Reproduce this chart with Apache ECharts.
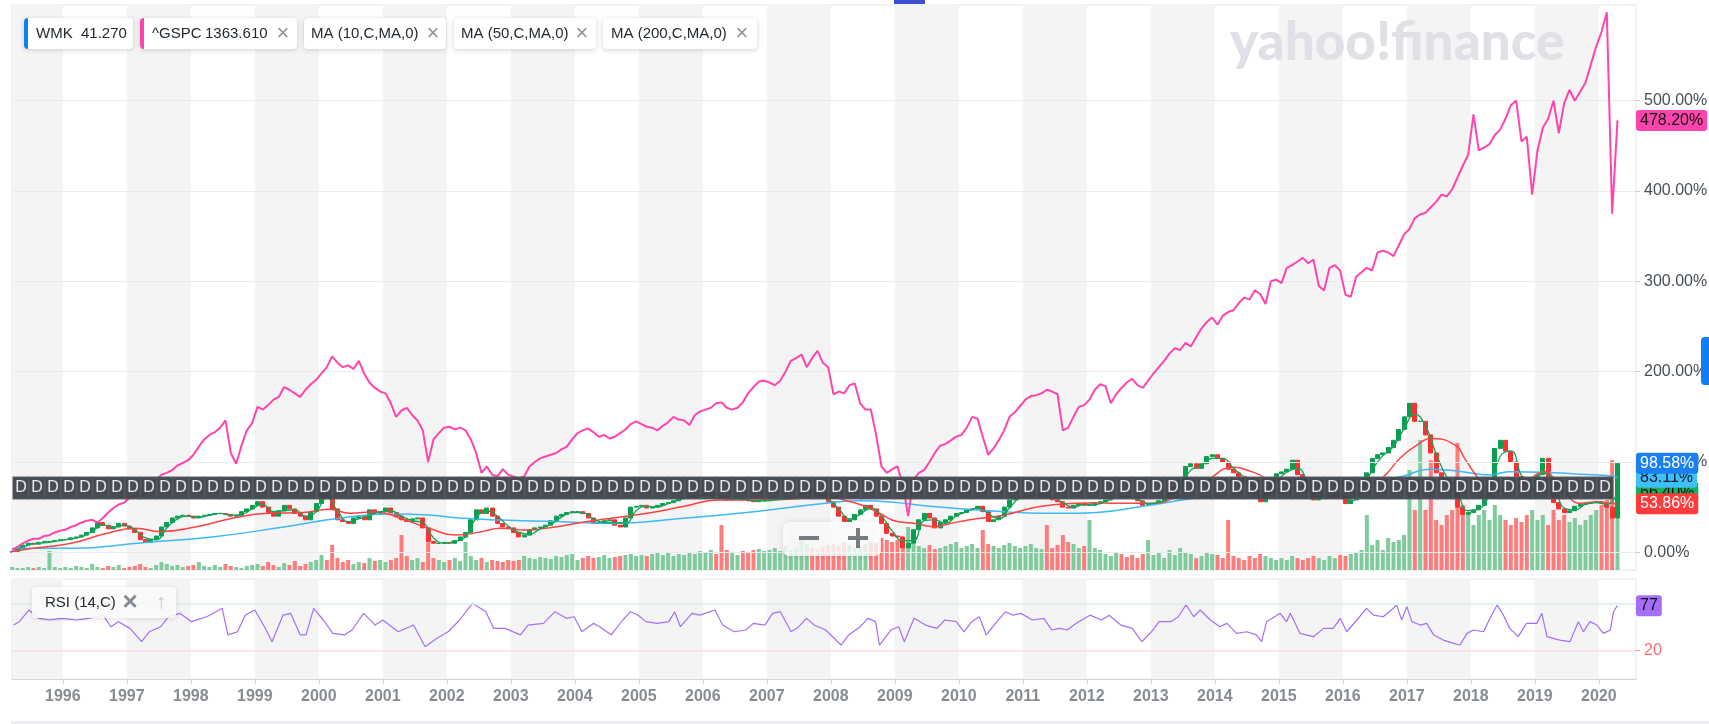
<!DOCTYPE html>
<html>
<head>
<meta charset="utf-8" />
<title>WMK vs ^GSPC</title>
<script type="text/javascript" src="https://cdn.jsdelivr.net/npm/echarts@6/dist/echarts.min.js"></script>
<style>
html, body { margin: 0; padding: 0; background: #fff; }
#chart { width: 1709px; height: 724px; }
</style>
</head>
<body>
<div id="chart"></div>
<script type="text/javascript">
// monthly series start at March 1995, one value per month (mid-month)
var startYear = 1995, startMonth = 3;

// WMK close, % change since start
var wmkClose = [
  1, 5, 8, 10, 9, 11, 12, 12, 13, 14,
  14, 16, 17, 19, 22, 27, 33, 30, 26, 28, 32, 29,
  26, 22, 14, 11, 14, 18, 28, 33, 38, 40, 41, 40,
  38, 40, 41, 42, 43, 43, 42, 40, 41, 45, 48, 52,
  56, 50, 44, 40, 46, 52, 48, 43, 40, 36, 45, 54,
  65, 62, 48, 36, 34, 32, 38, 40, 36, 47, 43, 45,
  49, 44, 40, 36, 34, 37, 38, 27, 12, 10, 10, 11,
  10, 13, 17, 22, 36, 47, 43, 49, 40, 32, 28, 27,
  22, 17, 19, 25, 27, 28, 30, 35, 40, 42, 44, 45,
  45, 43, 38, 32, 33, 35, 36, 30, 28, 38, 50, 51,
  52, 49, 50, 52, 54, 55, 57, 60, 61, 62, 63, 63,
  64, 65, 63, 60, 58, 59, 60, 58, 57, 56, 57, 57,
  58, 59, 59, 60, 60, 62, 65, 70, 66, 62, 60, 56,
  50, 40, 34, 36, 42, 47, 52, 48, 40, 32, 21, 18,
  17, 5, 10, 25, 36, 43, 38, 27, 33, 36, 40, 43,
  44, 47, 48, 51, 45, 34, 36, 40, 50, 58, 60, 61,
  62, 63, 64, 65, 62, 58, 56, 50, 49, 52, 54, 52,
  52, 54, 56, 58, 61, 63, 62, 61, 60, 57, 52, 53,
  54, 57, 61, 65, 72, 80, 95, 98, 93, 98, 106, 108,
  104, 100, 92, 88, 84, 78, 73, 64, 56, 66, 78, 87,
  89, 92, 102, 86, 80, 66, 58, 60, 62, 62, 65, 62,
  54, 58, 68, 76, 88, 104, 108, 110, 116, 124, 136, 150,
  165, 145, 145, 130, 110, 88, 82, 78, 68, 50, 42, 44,
  47, 52, 62, 80, 115, 124, 112, 100, 84, 70, 68, 73,
  86, 104, 82, 55, 48, 44, 46, 51, 53, 54, 55, 56,
  54, 50, 38, 98.58
];

// ^GSPC, % change since start
var gspcPct = [
  2, 6, 10, 13, 15, 15, 18, 19, 22, 24,
  25, 28, 30, 33, 35, 36, 33, 38, 44, 49, 53, 55,
  60, 63, 62, 65, 74, 80, 86, 88, 91, 96, 99, 102,
  108, 117, 125, 130, 133, 138, 146, 110, 98, 118, 135, 143,
  161, 158, 163, 169, 172, 183, 180, 176, 172, 180, 186, 191,
  198, 205, 217, 210, 205, 207, 203, 212, 198, 188, 182, 178,
  176, 165, 150, 157, 160, 152, 146, 135, 100, 125, 132, 138,
  139, 136, 138, 135, 125, 110, 88, 95, 86, 84, 92, 86,
  84, 82, 84, 95, 100, 104, 106, 108, 110, 114, 117, 125,
  132, 135, 137, 133, 128, 130, 126, 128, 132, 136, 142, 145,
  142, 139, 138, 135, 140, 144, 150, 147, 146, 141, 152, 156,
  158, 160, 165, 166, 160, 158, 160, 166, 176, 183, 189, 190,
  188, 185, 190, 200, 212, 215, 219, 205, 215, 223, 210, 205,
  175, 178, 176, 185, 187, 165, 158, 158, 130, 95, 88, 92,
  95, 75, 40, 80, 88, 91, 100, 110, 118, 120, 124, 128,
  130, 138, 150, 148, 128, 108, 115, 124, 135, 150, 155, 162,
  169, 173, 174, 176, 180, 178, 175, 135, 138, 150, 161, 163,
  169, 180, 186, 184, 165, 175, 182, 188, 192, 185, 182, 190,
  198, 205, 212, 220, 226, 224, 232, 228, 238, 248, 255, 260,
  252, 262, 266, 268, 276, 282, 280, 290, 286, 275, 300, 302,
  298, 315, 318, 322, 326, 320, 324, 295, 290, 315, 318, 312,
  285, 283, 305, 310, 315, 312, 332, 334, 332, 328, 340, 352,
  358, 370, 374, 376, 382, 388, 396, 394, 402, 415, 428, 440,
  485, 445, 448, 452, 462, 468, 480, 495, 500, 455, 460, 396,
  445, 470, 480, 500, 464, 497, 512, 500, 510, 520, 540, 560,
  576, 598, 375, 478.2
];

// WMK volume, relative units
var volume = [
  3, 2, 2, 3, 2, 3, 2, 19, 3, 2,
  3, 2, 4, 3, 2, 6, 3, 2, 4, 3, 5, 2,
  3, 4, 6, 3, 2, 5, 8, 6, 4, 5, 3, 4,
  5, 8, 4, 3, 5, 3, 6, 4, 3, 2, 4, 5,
  6, 4, 8, 5, 3, 7, 5, 9, 4, 6, 8, 10,
  15, 10, 25, 12, 8, 10, 6, 8, 7, 12, 9, 10,
  8, 10, 12, 35, 14, 10, 12, 8, 28, 12, 10, 8,
  10, 12, 9, 28, 14, 10, 12, 8, 10, 9, 8, 10,
  9, 10, 14, 12, 11, 13, 12, 11, 14, 13, 15, 16,
  10, 12, 14, 12, 13, 15, 12, 13, 14, 15, 16, 14,
  15, 14, 16, 18, 15, 17, 14, 16, 15, 18, 16, 19,
  18, 20, 16, 45, 20, 18, 15, 19, 18, 20, 21, 19,
  20, 22, 19, 24, 20, 22, 30, 26, 22, 20, 23, 25,
  26, 24, 28, 25, 22, 24, 26, 28, 27, 32, 30, 28,
  30, 28, 43, 26, 24, 22, 25, 21, 22, 24, 26, 28,
  22, 24, 26, 22, 40, 26, 24, 22, 25, 27, 24, 22,
  24, 26, 22, 21, 45, 22, 25, 35, 28, 26, 22, 24,
  50, 22, 20, 16, 14, 18, 16, 13, 15, 12, 16, 30,
  15, 18, 12, 20, 15, 22, 18, 16, 12, 14, 18, 16,
  15, 12, 50, 14, 12, 10, 14, 12, 16, 14, 12, 10,
  12, 10, 14, 12, 10, 12, 14, 12, 10, 14, 12, 15,
  14, 16, 18, 20, 55, 25, 30, 20, 32, 28, 30, 35,
  100, 60, 130, 60, 110, 50, 45, 55, 60, 127, 65, 55,
  45, 55, 60, 50, 65, 55, 50, 45, 52, 48, 55, 60,
  50, 55, 45, 60, 50, 55, 48, 52, 45, 50, 55, 60,
  65, 70, 110, 105
];

// MA(10): every second month from April 1995
var ma10 = [
  3, 8, 10, 11, 13,
  15, 17, 23, 30, 28, 30,
  25, 16, 14, 27, 37, 40,
  39, 41, 43, 41, 42, 48,
  53, 45, 46, 47, 40, 45,
  60, 46, 34, 37, 41, 45,
  46, 40, 35, 33, 16, 10,
  12, 17, 38, 46, 40, 29,
  22, 20, 26, 31, 39, 44,
  44, 37, 33, 33, 32, 46,
  51, 50, 54, 58, 61, 63,
  64, 62, 59, 59, 57, 57,
  58, 59, 61, 66, 66, 59,
  48, 37, 42, 49, 40, 24,
  13, 13, 35, 36, 32, 40,
  45, 49, 43, 37, 49, 60,
  62, 64, 62, 55, 50, 53,
  53, 56, 61, 62, 59, 54,
  55, 61, 72, 91, 96, 104,
  104, 93, 83, 72, 62, 77,
  89, 93, 77, 61, 61, 63,
  57, 67, 91, 107, 117, 137,
  153, 140, 109, 83, 66, 46,
  48, 65, 106, 112, 85, 71,
  88, 80, 49, 47, 53, 55,
  53, 66.4
];

// MA(50) as [year, %]
var ma50 = [
  [1995.21, 0.7], [1995.6, 5], [1996.13, 10], [1996.69, 21], [1997.14, 26.6], [1997.53, 22.9],
  [1998.09, 28.4], [1998.65, 37.7], [1999.2, 43.2], [1999.76, 44], [2000.15, 47.6], [2000.49, 43.2],
  [2000.88, 45], [2001.27, 37.7], [2001.72, 26.6], [2002.16, 19.2], [2002.55, 22.9], [2002.83, 26.6],
  [2003.22, 24.7], [2003.72, 28.4], [2004.01, 32], [2004.57, 37.7], [2005.13, 43.2], [2005.69, 50.6],
  [2006.25, 58], [2006.8, 58], [2007.36, 58.7], [2007.92, 63.5], [2008.2, 58], [2008.48, 52.4],
  [2008.76, 43.2], [2009.04, 34], [2009.32, 32], [2009.6, 28.4], [2009.87, 32], [2010.15, 35.8],
  [2010.71, 41.3], [2011.27, 50.6], [2011.83, 54.3], [2012.16, 55], [2012.45, 54.3], [2013.01, 54.3],
  [2013.46, 63.5], [2013.85, 78.3], [2014.29, 94.1], [2014.57, 89.3], [2014.79, 82], [2015.02, 65.3],
  [2015.35, 73.5], [2015.52, 69], [2015.8, 61.6], [2016.08, 59.8], [2016.36, 69], [2016.64, 83.8],
  [2016.92, 106], [2017.2, 120.7], [2017.36, 126], [2017.75, 118.9], [2017.92, 102], [2018.14, 80],
  [2018.31, 69], [2018.59, 69], [2018.87, 78.3], [2019.15, 89.3], [2019.32, 80], [2019.48, 65.3],
  [2019.71, 54.3], [2019.99, 56], [2020.15, 54.3], [2020.29, 53.86]
];

// MA(200) as [year, %]
var ma200 = [
  [1995.21, 4.4], [1996.13, 4.4], [1997.25, 10.7], [1998.37, 17.3], [1999.48, 28.4], [2000.32, 37.7],
  [2001.16, 42.5], [2001.72, 41.3], [2002.27, 37.7], [2002.83, 35.8], [2003.72, 34], [2004.57, 32],
  [2005.69, 37.7], [2006.8, 45], [2007.92, 54.3], [2008.48, 57.2], [2009.04, 55], [2009.6, 50.6],
  [2010.15, 47.6], [2010.71, 45], [2011.27, 43.2], [2011.83, 43.2], [2012.16, 44], [2012.9, 51.3],
  [2013.68, 59.8], [2014.3, 64], [2015.0, 70], [2015.7, 74], [2016.3, 76], [2016.92, 84],
  [2017.36, 92], [2017.75, 90.4], [2018.31, 85.6], [2018.59, 89.3], [2019.15, 88.6], [2019.71, 86.4],
  [2020.2, 84.5], [2020.29, 83.11]
];

// RSI(14) as [year, value]
var rsi = [
  [1995.23, 52.5], [1995.32, 56.8], [1995.47, 71.5], [1995.62, 61], [1995.8, 58.9], [1995.98, 61],
  [1996.22, 58.9], [1996.4, 61], [1996.63, 65], [1996.75, 50.4], [1996.87, 56.8], [1997.05, 48.3],
  [1997.23, 31.4], [1997.35, 44], [1997.53, 50.4], [1997.65, 63], [1997.83, 67.3], [1998.01, 56.8],
  [1998.25, 63], [1998.49, 73.7], [1998.58, 40], [1998.73, 44], [1998.85, 65], [1999.0, 71.5],
  [1999.15, 50.4], [1999.27, 31.4], [1999.44, 65], [1999.56, 67.3], [1999.71, 40], [1999.8, 40],
  [1999.92, 73.7], [2000.07, 58.9], [2000.22, 42], [2000.4, 40], [2000.52, 46.2], [2000.7, 67.3],
  [2000.88, 52.5], [2001.0, 58.9], [2001.24, 44], [2001.48, 52.5], [2001.66, 25], [2001.84, 35.6],
  [2002.02, 44], [2002.2, 58.9], [2002.4, 80], [2002.61, 69.4], [2002.73, 48.3], [2002.91, 48.3],
  [2003.15, 40], [2003.27, 52.5], [2003.51, 54.6], [2003.69, 69.4], [2003.87, 61], [2003.99, 63],
  [2004.11, 44], [2004.29, 54.6], [2004.39, 50.4], [2004.57, 40], [2004.75, 58.9], [2004.87, 69.4],
  [2004.99, 65], [2005.11, 56.8], [2005.29, 54.6], [2005.47, 56.8], [2005.56, 69.4], [2005.65, 50.4],
  [2005.83, 67.3], [2005.95, 65], [2006.19, 71.5], [2006.31, 52.5], [2006.49, 44], [2006.67, 46.2],
  [2006.79, 54.6], [2006.97, 52.5], [2007.09, 67.3], [2007.21, 69.4], [2007.38, 44], [2007.5, 50.4],
  [2007.62, 61], [2007.74, 52.5], [2007.92, 46.2], [2008.16, 27.2], [2008.28, 40], [2008.46, 50.4],
  [2008.58, 61], [2008.7, 56.8], [2008.76, 27.2], [2008.94, 46.2], [2009.06, 50.4], [2009.15, 31.4],
  [2009.3, 61], [2009.48, 52.5], [2009.66, 48.3], [2009.78, 58.9], [2009.96, 56.8], [2010.08, 44],
  [2010.2, 56.8], [2010.32, 63], [2010.43, 40], [2010.55, 52.5], [2010.73, 69.4], [2010.85, 65],
  [2010.97, 67.3], [2011.15, 58.9], [2011.33, 61], [2011.45, 46.2], [2011.57, 48.3], [2011.69, 46.2],
  [2011.87, 56.8], [2012.05, 65], [2012.23, 58.9], [2012.35, 65], [2012.53, 52.5], [2012.71, 48.3],
  [2012.86, 31.4], [2013.01, 44], [2013.13, 56.8], [2013.31, 56.8], [2013.43, 63], [2013.55, 78],
  [2013.67, 63], [2013.77, 71.5], [2013.93, 58.9], [2014.08, 50.4], [2014.19, 54.6], [2014.34, 42],
  [2014.5, 44], [2014.65, 40], [2014.73, 31.4], [2014.81, 56.8], [2015.02, 67.3], [2015.12, 56.8],
  [2015.18, 67.3], [2015.33, 42], [2015.54, 37.8], [2015.7, 48.3], [2015.85, 48.3], [2015.96, 61],
  [2016.06, 44], [2016.22, 58.9], [2016.37, 73.7], [2016.48, 65], [2016.63, 63], [2016.79, 73.7],
  [2016.84, 78], [2016.92, 58.9], [2017.0, 75.8], [2017.08, 56.8], [2017.21, 52.5], [2017.31, 54.6],
  [2017.42, 40], [2017.57, 33.5], [2017.73, 29.3], [2017.83, 27.2], [2017.94, 42], [2018.04, 46.2],
  [2018.2, 44], [2018.3, 61], [2018.41, 78], [2018.51, 65], [2018.61, 48.3], [2018.74, 37.8],
  [2018.87, 54.6], [2019.03, 54.6], [2019.11, 67.3], [2019.19, 37.8], [2019.39, 33.5], [2019.55, 31.4],
  [2019.68, 56.8], [2019.76, 44], [2019.86, 56.8], [2019.97, 52.5], [2020.07, 42], [2020.18, 46.2],
  [2020.23, 69.4], [2020.29, 77]
];

// quarterly dividend months (Feb, May, Aug, Nov), May 1995 .. Feb 2020
var divMonths = [2, 5, 8, 11];
var divFirst = 1995.34, divLast = 2020.1;

var yearTicks = [];
for (var y = 1996; y <= 2020; y++) yearTicks.push(y);
var pctTicks = [0, 100, 200, 300, 400, 500];
var rsiTicks = [20];
var rsiLevels = [80, 20];

var xMin = 1995.206, xMax = 2020.581;

function monthX(i) { return startYear + (startMonth - 1 + i + 0.5) / 12; }

var candleData = wmkClose.map(function (c, i) {
  var o = i === 0 ? 0 : wmkClose[i - 1];
  return [monthX(i), o, c, Math.min(o, c), Math.max(o, c)];
});
var gspcData = gspcPct.map(function (v, i) { return [monthX(i), v]; });
var ma10Data = ma10.map(function (v, i) { return [startYear + (startMonth + 2 * i + 0.5) / 12, v]; });
var volData = volume.map(function (v, i) {
  var up = i === 0 || wmkClose[i] >= wmkClose[i - 1];
  return { value: [monthX(i), v], itemStyle: { color: up ? '#7fcb9d' : '#ff7c7c' } };
});
var divData = [];
for (var dy = 1995; dy <= 2020; dy++) {
  divMonths.forEach(function (m) {
    var t = dy + (m - 1 + 0.15) / 12;
    if (t >= divFirst - 0.01 && t <= divLast + 0.01) divData.push([t, 0.5]);
  });
}
var oddYears = [];
for (var oy = 1995; oy <= 2020; oy++) if (oy % 2 === 1) oddYears.push([oy, 0]);

function bandItem(params, api) {
  var x0 = api.coord([api.value(0), 0])[0];
  var x1 = api.coord([api.value(0) + 1, 0])[0];
  var cs = params.coordSys;
  var l = Math.max(x0, cs.x), r = Math.min(x1, cs.x + cs.width);
  if (r <= l) return null;
  return { type: 'rect', shape: { x: l, y: cs.y, width: r - l, height: cs.height }, style: { fill: '#f4f4f4' } };
}

function last(arr) { var v = arr[arr.length - 1]; return Array.isArray(v) ? v[1] : v; }

// price tag on the right axis, drawn as an invisible markLine label at the last value
function tag(axisIndex, value, text, bg, fg, z) {
  return {
    type: 'line', xAxisIndex: axisIndex, yAxisIndex: axisIndex, z: z, silent: true,
    data: [[xMax, value]], showSymbol: false, lineStyle: { width: 0, color: 'rgba(0,0,0,0)' },
    markLine: {
      symbol: 'none', silent: true, animation: false,
      lineStyle: { width: 0, color: 'rgba(0,0,0,0)' },
      data: [{ yAxis: value }],
      label: {
        show: true, position: 'end', distance: 0, formatter: text,
        backgroundColor: bg, color: fg, fontSize: 16, fontFamily: 'Liberation Sans',
        padding: [3, 4, 2, 4], borderRadius: 3, opacity: 1
      }
    }
  };
}
function pct(v) { return v.toFixed(2) + '%'; }

var L = 12, R = 73;
var font = 'Liberation Sans';

function chip(x, w, accent) {
  var els = [{
    type: 'rect', z: 100, shape: { x: x, y: 18, width: w, height: 31, r: 4 },
    style: { fill: '#fff', shadowBlur: 5, shadowColor: 'rgba(0,0,0,0.18)', shadowOffsetY: 1 }
  }];
  if (accent) els.push({ type: 'rect', z: 101, shape: { x: x, y: 18, width: 4, height: 31, r: [4, 0, 0, 4] }, style: { fill: accent } });
  return els;
}
function txt(x, y, s, size, color, align, weight) {
  return { type: 'text', z: 102, x: x, y: y, style: { text: s, fontSize: size, fontFamily: font, fill: color, align: align || 'left', verticalAlign: 'middle', fontWeight: weight || 'normal' } };
}

var graphics = [].concat(
  [{ type: 'text', z: 1, x: 1230, y: 43, style: { text: 'yahoo!finance', fontSize: 53, fontFamily: 'Lato', fontWeight: 900, fill: '#dfe1e6', verticalAlign: 'middle' } }],
  chip(24, 109, '#0f7ff2'), chip(140, 157, '#ff45ad'), chip(304, 142), chip(454, 142), chip(603, 154),
  [
    txt(36, 34, 'WMK', 15, '#232a31'), txt(81, 34, '41.270', 15, '#232a31'),
    txt(152, 34, '^GSPC', 15, '#232a31'), txt(205, 34, '1363.610', 15, '#232a31'), txt(283, 34, '×', 22, '#8b9299', 'center'),
    txt(311, 34, 'MA (10,C,MA,0)', 15, '#232a31'), txt(433, 34, '×', 22, '#8b9299', 'center'),
    txt(461, 34, 'MA (50,C,MA,0)', 15, '#232a31'), txt(582, 34, '×', 22, '#8b9299', 'center'),
    txt(611, 34, 'MA (200,C,MA,0)', 15, '#232a31'), txt(742, 34, '×', 22, '#8b9299', 'center'),
    { type: 'rect', z: 100, shape: { x: 32, y: 587, width: 144, height: 31, r: 4 },
      style: { fill: 'rgba(255,255,255,0.85)', shadowBlur: 5, shadowColor: 'rgba(0,0,0,0.15)', shadowOffsetY: 1 } },
    txt(45, 603, 'RSI (14,C)', 15, '#232a31'), txt(130, 603, '×', 26, '#858b92', 'center', 'bold'), txt(161, 602, '↑', 20, '#c3c7cb', 'center'),
    { type: 'rect', z: 100, shape: { x: 783, y: 522, width: 98, height: 34, r: 6 },
      style: { fill: 'rgba(255,255,255,0.8)', shadowBlur: 6, shadowColor: 'rgba(0,0,0,0.15)' } },
    { type: 'rect', z: 101, shape: { x: 799, y: 536, width: 20, height: 4 }, style: { fill: '#767b80' } },
    { type: 'rect', z: 101, shape: { x: 848, y: 536, width: 20, height: 4 }, style: { fill: '#767b80' } },
    { type: 'rect', z: 101, shape: { x: 856, y: 528, width: 4, height: 20 }, style: { fill: '#767b80' } },
    { type: 'rect', z: 100, shape: { x: 894, y: 0, width: 31, height: 4 }, style: { fill: '#3d4ed1' } },
    { type: 'rect', z: 100, shape: { x: 1701, y: 337, width: 14, height: 48, r: 4 }, style: { fill: '#0f7ff2' } },
    { type: 'rect', z: 100, shape: { x: 11, y: 721, width: 1698, height: 3 }, style: { fill: '#eceef1' } }
  ]
);

var chart = echarts.init(document.getElementById('chart'));
chart.setOption({
  animation: false,
  backgroundColor: '#fff',
  textStyle: { fontFamily: font },
  grid: [
    { left: L, right: R, top: 5, height: 565, show: true, borderColor: '#e1e5e9', borderWidth: 1, containLabel: false, outerBoundsMode: 'none' },
    { left: L, right: R, top: 477, height: 22, containLabel: false, outerBoundsMode: 'none' },
    { left: L, right: R, top: 430, height: 140, containLabel: false, outerBoundsMode: 'none' },
    { left: L, right: R, top: 579, height: 100, show: true, borderColor: '#e1e5e9', borderWidth: 1, containLabel: false, outerBoundsMode: 'none' }
  ],
  xAxis: [0, 1, 2, 3].map(function (g) {
    var ax = { type: 'value', gridIndex: g, min: xMin, max: xMax, show: g === 3, splitLine: { show: false } };
    if (g === 3) {
      ax.axisLine = { onZero: false, lineStyle: { color: '#d3d8dc' } };
      ax.axisTick = { customValues: yearTicks, length: 5, lineStyle: { color: '#cdd2d6' } };
      ax.axisLabel = { customValues: yearTicks, formatter: function (v) { return String(v); }, color: '#878c91', fontSize: 16, fontWeight: 'bold', fontFamily: font, margin: 10 };
    }
    return ax;
  }),
  yAxis: [
    { type: 'value', gridIndex: 0, position: 'right', min: -19.6, max: 606, splitLine: { show: false }, axisLine: { show: false },
      axisTick: { show: true, customValues: pctTicks, length: 4, lineStyle: { color: '#c8cdd2' } },
      axisLabel: { customValues: pctTicks, formatter: function (v) { return v.toFixed(2) + '%'; }, color: '#464e56', fontSize: 16, fontFamily: font, margin: 8 } },
    { type: 'value', gridIndex: 1, min: 0, max: 1, show: false },
    { type: 'value', gridIndex: 2, min: 0, max: 140, show: false },
    { type: 'value', gridIndex: 3, position: 'right', min: -15.8, max: 110.8, splitLine: { show: false }, axisLine: { show: false },
      axisTick: { show: true, customValues: rsiTicks, length: 4, lineStyle: { color: '#ff9a9a' } },
      axisLabel: { customValues: rsiTicks, color: '#ff6f6f', fontSize: 16, fontFamily: font, margin: 8 } }
  ],
  graphic: graphics,
  series: [
    { type: 'custom', name: 'bands', xAxisIndex: 0, yAxisIndex: 0, z: 0, silent: true, data: oddYears, renderItem: bandItem,
      markLine: { symbol: 'none', silent: true, label: { show: false }, lineStyle: { color: '#ebebeb', type: 'solid', width: 1 },
        data: pctTicks.map(function (v) { return { yAxis: v }; }) } },
    { type: 'custom', name: 'bandsRsi', xAxisIndex: 3, yAxisIndex: 3, z: 0, silent: true, data: oddYears, renderItem: bandItem,
      markLine: { symbol: 'none', silent: true, label: { show: false },
        data: [{ yAxis: rsiLevels[0], lineStyle: { color: '#d6f1ea', width: 1.5, type: 'solid' } },
               { yAxis: rsiLevels[1], lineStyle: { color: '#fbdede', width: 1.5, type: 'solid' } }] } },
    { type: 'bar', name: 'Volume', xAxisIndex: 2, yAxisIndex: 2, z: 1, barWidth: 4, data: volData },
    { type: 'candlestick', name: 'WMK', xAxisIndex: 0, yAxisIndex: 0, z: 3, data: candleData, encode: { x: 0, y: [1, 2, 3, 4] },
      barWidth: 4.5, itemStyle: { color: '#0a9e50', color0: '#ff3030', borderColor: '#0a9e50', borderColor0: '#ff3030', borderWidth: 1 } },
    { type: 'line', name: 'MA200', xAxisIndex: 0, yAxisIndex: 0, z: 4, data: ma200, smooth: true, showSymbol: false, lineStyle: { color: '#3fb9f6', width: 1.5 } },
    { type: 'line', name: 'MA50', xAxisIndex: 0, yAxisIndex: 0, z: 4, data: ma50, smooth: true, showSymbol: false, lineStyle: { color: '#ff4242', width: 1.5 } },
    { type: 'line', name: 'MA10', xAxisIndex: 0, yAxisIndex: 0, z: 4, data: ma10Data, smooth: true, showSymbol: false, lineStyle: { color: '#13a358', width: 1.3 } },
    { type: 'line', name: '^GSPC', xAxisIndex: 0, yAxisIndex: 0, z: 5, data: gspcData, showSymbol: false, lineStyle: { color: '#ff45ad', width: 2 } },
    { type: 'line', name: 'RSI', xAxisIndex: 3, yAxisIndex: 3, z: 3, data: rsi, showSymbol: false, lineStyle: { color: '#a56ef9', width: 1.2 } },
    { type: 'scatter', name: 'Dividends', xAxisIndex: 1, yAxisIndex: 1, z: 10, data: divData, symbol: 'rect', symbolSize: [16, 22],
      itemStyle: { color: '#40444c', borderColor: '#5a5e66', borderWidth: 1, opacity: 0.96 },
      label: { show: true, position: 'inside', formatter: 'D', color: '#f0f0f0', fontSize: 16, fontFamily: font } },
    tag(0, last(gspcPct), pct(last(gspcPct)), '#ff45ad', '#111', 16),
    tag(0, last(ma10), pct(last(ma10)), '#0db35c', '#111', 17),
    tag(0, last(ma50), pct(last(ma50)), '#ff3b3b', '#fff', 18),
    tag(0, last(ma200), pct(last(ma200)), '#3fc0f6', '#0b1830', 19),
    tag(0, last(wmkClose), pct(last(wmkClose)), '#1a7ff0', '#fff', 20),
    tag(3, last(rsi), String(Math.round(last(rsi))), '#a56ef9', '#111', 16)
  ]
});
</script>
</body>
</html>
